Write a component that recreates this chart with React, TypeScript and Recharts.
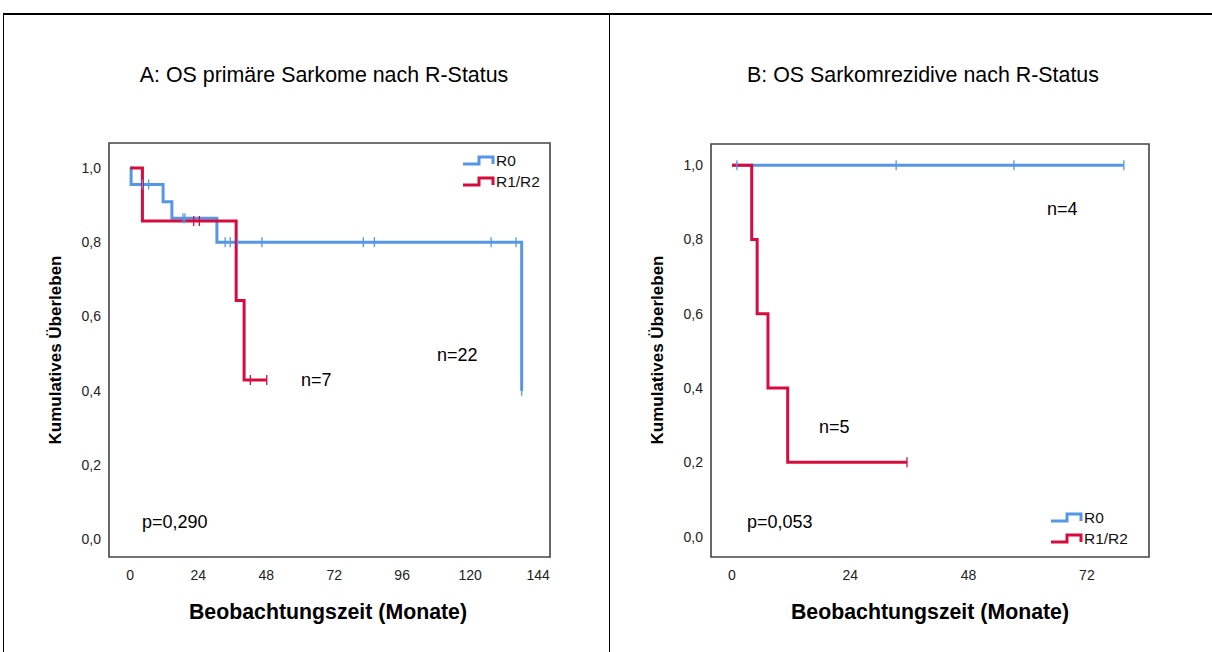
import React from 'react';
import { LineChart, Line, XAxis, YAxis, ReferenceArea } from 'recharts';

// Kaplan-Meier steps: t = months, s = survival, c = censored mark
const osPrimaryR0 = [
  { t: 0, s: 1.0 },
  { t: 0.3, s: 0.955 },
  { t: 4.3, s: 0.955, c: true },
  { t: 6.5, s: 0.955, c: true },
  { t: 11.6, s: 0.909 },
  { t: 14.7, s: 0.864 },
  { t: 18.6, s: 0.864, c: true },
  { t: 19.3, s: 0.864, c: true },
  { t: 30.6, s: 0.8 },
  { t: 33.5, s: 0.8, c: true },
  { t: 35.3, s: 0.8, c: true },
  { t: 37.9, s: 0.8, c: true },
  { t: 46.5, s: 0.8, c: true },
  { t: 82.3, s: 0.8, c: true },
  { t: 86.2, s: 0.8, c: true },
  { t: 127.4, s: 0.8, c: true },
  { t: 136.2, s: 0.8, c: true },
  { t: 138.2, s: 0.4, c: true },
];

const osPrimaryR12 = [
  { t: 0, s: 1.0 },
  { t: 4.3, s: 0.857 },
  { t: 22.4, s: 0.857, c: true },
  { t: 24.4, s: 0.857, c: true },
  { t: 37.4, s: 0.643 },
  { t: 40.2, s: 0.429 },
  { t: 42.4, s: 0.429, c: true },
  { t: 48.2, s: 0.429, c: true },
];

const osRelapseR0 = [
  { t: 0, s: 1.0 },
  { t: 1.0, s: 1.0, c: true },
  { t: 33.3, s: 1.0, c: true },
  { t: 57.2, s: 1.0, c: true },
  { t: 79.5, s: 1.0, c: true },
];

const osRelapseR12 = [
  { t: 0, s: 1.0 },
  { t: 4.0, s: 0.8 },
  { t: 5.1, s: 0.6 },
  { t: 7.3, s: 0.4 },
  { t: 11.3, s: 0.2 },
  { t: 35.5, s: 0.2, c: true },
];

const yTicks = [0, 0.2, 0.4, 0.6, 0.8, 1.0];
const xTicksA = [0, 24, 48, 72, 96, 120, 144];
const xTicksB = [0, 24, 48, 72];

const BLUE = '#5596E6';
const RED = '#D60C3F';
const FONT = '"Liberation Sans", Arial, sans-serif';

const censorDot = (color: string) => (props: any) => {
  const { cx, cy, payload, index } = props;
  if (!payload || !payload.c) return <g key={'d' + index} />;
  return <line key={'d' + index} x1={cx} x2={cx} y1={cy - 5} y2={cy + 5} stroke={color} strokeWidth={1.3} />;
};

const StepIcon = ({ color }: { color: string }) => (
  <svg width={34} height={14} style={{ display: 'block' }}>
    <polyline points="1,10 17,10 17,3 31,3 31,10" fill="none" stroke={color} strokeWidth={3} />
  </svg>
);

const LegendBox = ({ left, top }: { left: number, top: number }) => (
  <div style={{ position: 'absolute', left, top, fontSize: 15.5, lineHeight: '21px', color: '#111' }}>
    <div style={{ display: 'flex', alignItems: 'center' }}><StepIcon color={BLUE} /><span>R0</span></div>
    <div style={{ display: 'flex', alignItems: 'center' }}><StepIcon color={RED} /><span>R1/R2</span></div>
  </div>
);

const Txt = ({ x, y, size, children, bold, center }: any) => (
  <div style={{
    position: 'absolute', left: x, top: y, fontSize: size, fontWeight: bold ? 'bold' : 'normal',
    transform: center ? 'translate(-50%, -50%)' : 'translateY(-50%)', whiteSpace: 'nowrap', color: '#000'
  }}>{children}</div>
);

const YLabel = ({ x, y }: { x: number, y: number }) => (
  <div style={{
    position: 'absolute', left: x, top: y, fontSize: 17, fontWeight: 'bold', whiteSpace: 'nowrap',
    transform: 'translate(-50%, -50%) rotate(-90deg)', color: '#000'
  }}>Kumulatives Überleben</div>
);

const KMPanel = ({ left, width, margin, xDomain, yDomain, xTicks, r0, r12 }: any) => (
  <div style={{ position: 'absolute', left, top: 0 }}>
    <LineChart width={width} height={652} margin={margin}>
      <XAxis type="number" dataKey="t" domain={xDomain} ticks={xTicks} allowDataOverflow
             axisLine={false} tickLine={false} tickMargin={7} height={40}
             tick={{ fill: '#222', fontSize: 14, fontFamily: FONT }} />
      <YAxis type="number" domain={yDomain} ticks={yTicks} allowDataOverflow width={50}
             axisLine={false} tickLine={false}
             tickFormatter={(v: number) => v.toFixed(1).replace('.', ',')}
             tick={{ fill: '#222', fontSize: 14, fontFamily: FONT }} />
      <ReferenceArea x1={xDomain[0]} x2={xDomain[1]} y1={yDomain[0]} y2={yDomain[1]}
                     fill="none" stroke="#444" strokeWidth={1.6} ifOverflow="visible" />
      <Line data={r0} dataKey="s" type="stepAfter" stroke={BLUE} strokeWidth={3}
            dot={censorDot(BLUE)} activeDot={false} isAnimationActive={false} />
      <Line data={r12} dataKey="s" type="stepAfter" stroke={RED} strokeWidth={3}
            dot={censorDot(RED)} activeDot={false} isAnimationActive={false} />
    </LineChart>
  </div>
);

export default function App() {
  return (
    <div style={{ position: 'fixed', left: 0, top: 0, width: 1212, height: 652, background: '#fff', fontFamily: FONT, overflow: 'hidden' }}>
      {/* table borders */}
      <div style={{ position: 'absolute', left: 3, top: 13, width: 1209, height: 2, background: '#000' }} />
      <div style={{ position: 'absolute', left: 3, top: 14, width: 1, height: 638, background: '#000' }} />
      <div style={{ position: 'absolute', left: 609, top: 14, width: 1, height: 638, background: '#000' }} />

      <KMPanel left={0} width={610} margin={{ top: 143, right: 60, bottom: 55, left: 59 }}
               xDomain={[-7.5, 148.2]} yDomain={[-0.048, 1.067]} xTicks={xTicksA}
               r0={osPrimaryR0} r12={osPrimaryR12} />
      <KMPanel left={610} width={602} margin={{ top: 144, right: 63, bottom: 55, left: 51 }}
               xDomain={[-4.26, 84.6]} yDomain={[-0.055, 1.057]} xTicks={xTicksB}
               r0={osRelapseR0} r12={osRelapseR12} />

      <Txt x={324} y={75} size={21.4} center>A: OS primäre Sarkome nach R-Status</Txt>
      <Txt x={923} y={75} size={21.4} center>B: OS Sarkomrezidive nach R-Status</Txt>

      <Txt x={328} y={612} size={21.3} bold center>Beobachtungszeit (Monate)</Txt>
      <Txt x={930} y={612} size={21.3} bold center>Beobachtungszeit (Monate)</Txt>
      <YLabel x={56} y={350} />
      <YLabel x={658} y={350} />

      <Txt x={301} y={380} size={18}>n=7</Txt>
      <Txt x={437} y={355} size={18}>n=22</Txt>
      <Txt x={142} y={522} size={18}>p=0,290</Txt>
      <Txt x={1047} y={209} size={18}>n=4</Txt>
      <Txt x={819} y={427} size={18}>n=5</Txt>
      <Txt x={747} y={522} size={18}>p=0,053</Txt>

      <LegendBox left={462} top={150} />
      <LegendBox left={1050} top={507} />
    </div>
  );
}
